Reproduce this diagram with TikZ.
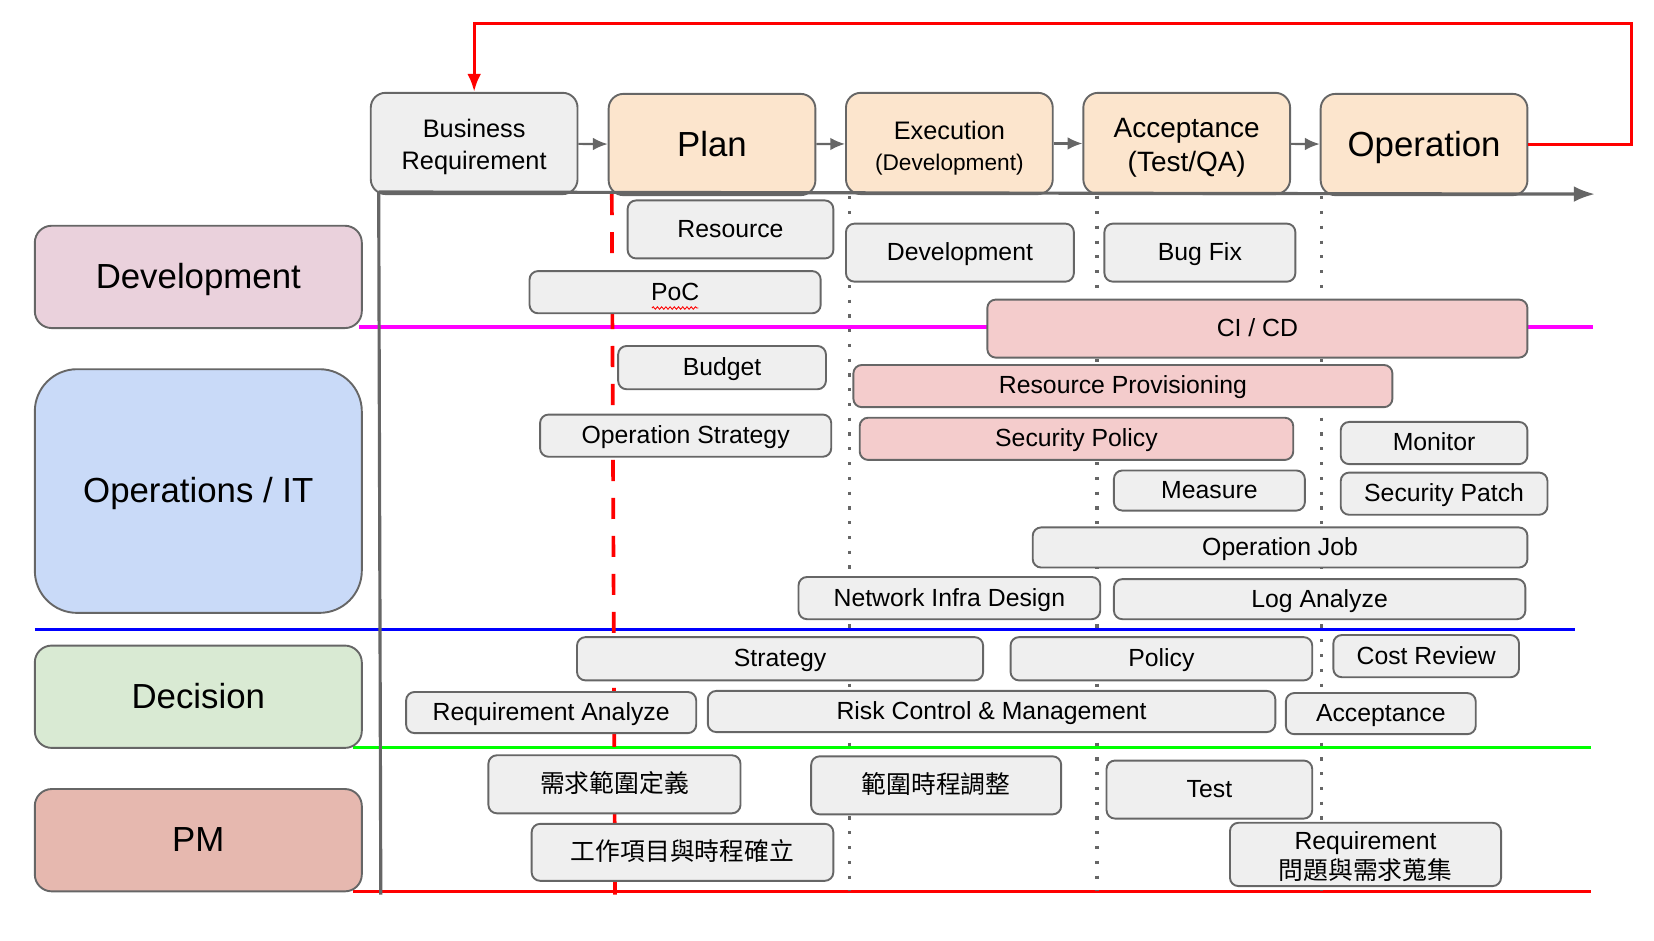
\documentclass[tikz,border=0pt]{standalone}
\usepackage{fontspec}
\setmainfont{Liberation Sans}
\newfontfamily\cjk{Noto Sans CJK TC}
\usetikzlibrary{arrows.meta,decorations.pathmorphing}
\definecolor{linegray}{HTML}{666666}
\definecolor{taskgray}{HTML}{EFEFEF}
\definecolor{peach}{HTML}{FCE5CD}
\definecolor{taskpink}{HTML}{F4CCCC}
\definecolor{devpink}{HTML}{EAD1DC}
\definecolor{opsblue}{HTML}{C9DAF8}
\definecolor{decgreen}{HTML}{D9EAD3}
\definecolor{pmred}{HTML}{E6B8AF}
\definecolor{devline}{HTML}{FF00FF}
\definecolor{opsline}{HTML}{0000FF}
\definecolor{decline}{HTML}{00FF00}
\definecolor{pmline}{HTML}{FF0000}

\begin{document}
\begin{tikzpicture}[x=1pt,y=-1pt,>={Latex[length=14pt,width=12pt]},
  cell/.style={draw=linegray,line width=1.8pt,inner sep=0pt,align=center},
  wh/.style 2 args={minimum width=#1pt,minimum height=#2pt},
  bigtext/.style={font=\fontsize{33}{40}\selectfont,text height=30pt,text depth=8pt},
  stage/.style={cell,fill=peach,rounded corners=14pt,minimum width=196pt,minimum height=96pt,font=\fontsize{24}{30}\selectfont},
  lane/.style={cell,rounded corners=16pt,minimum width=310pt,minimum height=97pt,bigtext},
  task/.style={cell,fill=taskgray,rounded corners=8pt,font=\fontsize{23.5}{28}\selectfont,text height=21pt,text depth=6pt},
  hot/.style={task,fill=taskpink},
  swim/.style={line width=3pt},
  phase/.style={linegray,line width=3pt,dash pattern=on 3pt off 11pt},
  flow/.style={linegray,line width=2pt},
  axis/.style={linegray,line width=3pt,>={Latex[length=20pt,width=15pt]}},
  feedback/.style={pmline,line width=3pt,>={Latex[length=17pt,width=13pt]}}]
\useasboundingbox (0,0) rectangle (1568,892);

\draw[swim,devline] (340,310) -- (1510,310);
\draw[swim,opsline] (33,597)  -- (1493,597);
\draw[swim,decline] (335,709) -- (1508,709);
\draw[swim,pmline]  (335,845) -- (1508,845);
\draw[phase] (805,186)  -- (805,845);
\draw[phase] (1040,186) -- (1040,845);
\draw[phase] (1253,186) -- (1253,845);
\draw[pmline,line width=3.5pt,dash pattern=on 20pt off 16pt] (580,184) -- (583,848);

\node[stage,fill=taskgray] (br)   at (449.5,136) {\rule{0pt}{24pt}Business\\Requirement};
\node[stage,bigtext]       (plan) at (675,137)   {Plan};
\node[stage]               (exec) at (900,136)   {\rule{0pt}{26pt}Execution\\{\fontsize{21.5}{26}\selectfont (Development)}};
\node[stage,font=\fontsize{26.5}{32}\selectfont] (acc) at (1125,136) {\rule{0pt}{26pt}Acceptance\\(Test/QA)};
\node[stage,bigtext]       (op)   at (1350,137)  {Operation};

\node[lane,fill=devpink]  (dev) at (188,262.5) {Development};
\node[lane,fill=opsblue,minimum height=231pt,rounded corners=40pt] (ops) at (188,465.5) {Operations / IT};
\node[lane,fill=decgreen] (dec) at (188,660.5) {Decision};
\node[lane,fill=pmred]    (pm)  at (188,796.5) {PM};

\node[task,wh={195}{55}] (resource)   at (692.5,217.5)  {Resource};
\node[task,wh={276}{40}] (poc)        at (640,277)      {PoC};
\node[task,wh={216}{55}] (devt)       at (910,239.5)    {Development};
\node[task,wh={181}{55}] (bugfix)     at (1137.5,239.5) {Bug Fix};
\node[hot,wh={512}{55}]  (cicd)       at (1192,311.5)   {CI / CD};
\node[task,wh={197}{41}] (budget)     at (684.5,348.5)  {Budget};
\node[hot,wh={511}{40}]  (resprov)    at (1064.5,366)   {Resource Provisioning};
\node[task,wh={276}{40}] (opstrat)    at (650,413)      {Operation Strategy};
\node[hot,wh={411}{40}]  (secpolicy)  at (1020.5,416)   {Security Policy};
\node[task,wh={177}{40}] (monitor)    at (1359.5,420)   {Monitor};
\node[task,wh={181}{38}] (measure)    at (1146.5,465)   {Measure};
\node[task,wh={196}{40}] (secpatch)   at (1369,468)     {Security Patch};
\node[task,wh={469}{38}] (opjob)      at (1213.5,519)   {Operation Job};
\node[task,wh={286}{40}] (netinfra)   at (900,567)      {Network Infra Design};
\node[task,wh={390}{38}] (loganalyze) at (1251,568)     {Log Analyze};
\node[task,wh={385}{41}] (strategy)   at (739.5,624.5)  {Strategy};
\node[task,wh={286}{41}] (policy)     at (1101,624.5)   {Policy};
\node[task,wh={176}{40}] (costreview) at (1352,622)     {Cost Review};
\node[task,wh={275}{39}] (reqanalyze) at (522.5,675.5)  {Requirement Analyze};
\node[task,wh={538}{39}] (riskctl)    at (940,674.5)    {Risk Control \& Management};
\node[task,wh={180}{39}] (accept)     at (1309,676.5)   {Acceptance};
\node[task,wh={239}{55}] (scope)      at (582.5,743.5)  {\cjk 需求範圍定義};
\node[task,wh={237}{55}] (adjust)     at (887.5,744.5)  {\cjk 範圍時程調整};
\node[task,wh={195}{55}] (test)       at (1146.5,748.5) {Test};
\node[task,wh={286}{54}] (workitems)  at (647,808)      {\cjk 工作項目與時程確立};
\node[task,wh={257}{60},text height=,text depth=] (reqcollect) at (1294.5,810) {\rule{0pt}{21pt}Requirement\\{\cjk 問題與需求蒐集}};

\draw[pmline,line width=0.8pt,decorate,decoration={snake,amplitude=1.2pt,segment length=4pt}]
  ([xshift=-22pt,yshift=-15pt]poc.center) -- ([xshift=22pt,yshift=-15pt]poc.center);

\coordinate (origin) at (359,182);
\draw[axis,->] (origin) -- (1512,184);
\draw[axis]    (origin) -- (361,848);

\draw[->,flow] (br)   edge (plan);
\draw[->,flow] (plan) edge (exec);
\draw[->,flow] (exec) edge (acc);
\draw[->,flow] (acc)  edge (op);

\coordinate (loop) at (1547,22);
\draw[feedback,->] (op.east) -| (loop) -| (br.north);
\end{tikzpicture}
\end{document}
